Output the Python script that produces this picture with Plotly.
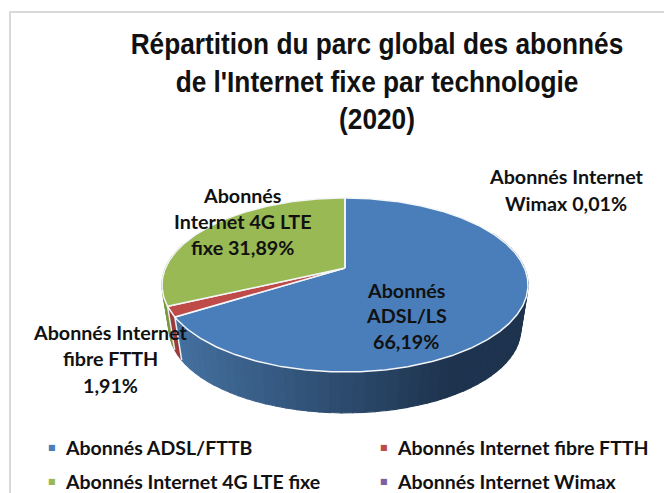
import numpy as np
import plotly.graph_objects as go

# ---- data (in pie order, clockwise from 12 o'clock) ----
categories = ["Abonnés ADSL/FTTB", "Abonnés Internet fibre FTTH",
              "Abonnés Internet 4G LTE fixe", "Abonnés Internet Wimax"]
values = [66.19, 1.91, 31.89, 0.01]
top_colors = ["#4a7ebb", "#be4b48", "#98b954", "#7d60a0"]
side_dark = ["#3c6694", "#9c3c3a", "#7a9a40", "#63497f"]

title_lines = ["Répartition du parc global des abonnés",
               "de l'Internet fixe par technologie", "(2020)"]
label_lines = [
    (["Abonnés", "ADSL/LS", "66,19%"], 406, [290, 315, 341]),
    (["Abonnés Internet", "fibre FTTH", "1,91%"], 110, [332, 358, 385]),
    (["Abonnés", "Internet 4G LTE", "fixe 31,89%"], 242, [195, 221, 247]),
    (["Abonnés Internet", "Wimax 0,01%"], 566, [176, 203]),
]
legend_pos = [(63, 447), (395, 447), (63, 481), (395, 481)]

# ---- pie projection (perspective view of a disc) ----
CX, CY, A, B, K = 345, 268, 179.5, 83.7, 0.195
BASE_Y, BASE_S = 313, 0.96


def rim(theta, depth=False):
    u, v = np.sin(theta), np.cos(theta)
    w = 1 + K * v
    dx, dy = A * u / w, -B * v / w
    if depth:
        return CX + BASE_S * dx, BASE_Y + BASE_S * dy
    return CX + dx, CY + dy


def mix(c1, c2, t):
    a = [int(c1[i:i + 2], 16) for i in (1, 3, 5)]
    b = [int(c2[i:i + 2], 16) for i in (1, 3, 5)]
    return "rgb(%d,%d,%d)" % tuple(round(a[i] + (b[i] - a[i]) * t) for i in range(3))


fracs = np.array(values) / sum(values)
edges = np.concatenate([[0], np.cumsum(fracs)]) * 2 * np.pi

fig = go.Figure()
common = dict(mode="lines", fill="toself", hoverinfo="skip", showlegend=False)

# side wall: paint from the back towards the viewer
segs = []
for i in range(len(values)):
    n = max(2, int((edges[i + 1] - edges[i]) / np.radians(3)))
    t = np.linspace(edges[i], edges[i + 1], n + 1)
    for a0, a1 in zip(t[:-1], t[1:]):
        mid = (a0 + a1) / 2
        if np.pi * 0.35 < mid < np.pi * 1.6:
            segs.append((abs(mid - np.pi), i, a0, a1))
segs.sort(key=lambda s: -s[0])
for _, i, a0, a1 in segs:
    x0, y0 = rim(a0)
    x1, y1 = rim(a1)
    x2, y2 = rim(a1, True)
    x3, y3 = rim(a0, True)
    if i == 0:
        frac = np.clip((rim((a0 + a1) / 2)[0] - 175) / (450 - 175), 0, 1)
        col = mix("#44709f", "#1e334e", frac)
    else:
        col = side_dark[i]
    fig.add_trace(go.Scatter(x=[x0, x1, x2, x3, x0], y=[y0, y1, y2, y3, y0],
                             fillcolor=col, line=dict(color=col, width=1.2), **common))

# white edges between wall faces
for e in edges[1:3]:
    xa, ya = rim(e)
    xb, yb = rim(e, True)
    fig.add_trace(go.Scatter(x=[xa, xb], y=[ya, yb], mode="lines", hoverinfo="skip",
                             showlegend=False, line=dict(color="#e8edf2", width=1.5)))

# top faces
for i, name in enumerate(categories):
    t = np.linspace(edges[i], edges[i + 1], max(2, int((edges[i + 1] - edges[i]) / 0.01)))
    xs, ys = rim(t)
    fig.add_trace(go.Scatter(x=np.r_[CX, xs, CX], y=np.r_[CY, ys, CY], name=name,
                             mode="lines", fill="toself", fillcolor=top_colors[i],
                             hoverinfo="name", showlegend=False,
                             line=dict(color="#f4f6f8", width=1.5)))

ann = []
for lines, x, ys in label_lines:
    for text, y in zip(lines, ys):
        ann.append(dict(x=x, y=y, text=text, showarrow=False, xanchor="center", yanchor="middle",
                        font=dict(family="Lato", size=19.7, color="#111111", weight="bold")))
for name, col, (x, y) in zip(categories, top_colors, legend_pos):
    ann.append(dict(x=x - 11, y=y, text="■", showarrow=False, xanchor="center", yanchor="middle",
                    font=dict(family="DejaVu Sans", size=8, color=col)))
    ann.append(dict(x=x, y=y, text=name, showarrow=False, xanchor="left", yanchor="middle",
                    font=dict(family="Lato", size=19.5, color="#111111", weight="bold")))

fig.update_layout(
    width=664, height=493, margin=dict(l=0, r=0, t=0, b=0),
    paper_bgcolor="white", plot_bgcolor="white",
    xaxis=dict(range=[0, 664], visible=False, fixedrange=True),
    yaxis=dict(range=[493, 0], visible=False, fixedrange=True),
    title=dict(text="<br>".join(title_lines), x=377 / 664, xanchor="center",
               y=1 - 54 / 493, yanchor="top",
               font=dict(family="Liberation Sans", size=29,
                         color="#111111", weight="bold")),
    annotations=ann,
    shapes=[dict(type="rect", x0=10, y0=12, x1=720, y1=560,
                 line=dict(color="#d9d9d9", width=2), layer="below")],
    showlegend=False,
)
post = """
document.documentElement.style.overflow='hidden';
document.body.style.margin='0';
var t=document.querySelector('.gtitle');
if(t){var old=t.getAttribute('transform')||'';
t.setAttribute('transform',old+' translate(377,0) scale(0.905,1) translate(-377,0)');}
"""
fig.write_html("out.html", config={"displayModeBar": False}, post_script=post)
